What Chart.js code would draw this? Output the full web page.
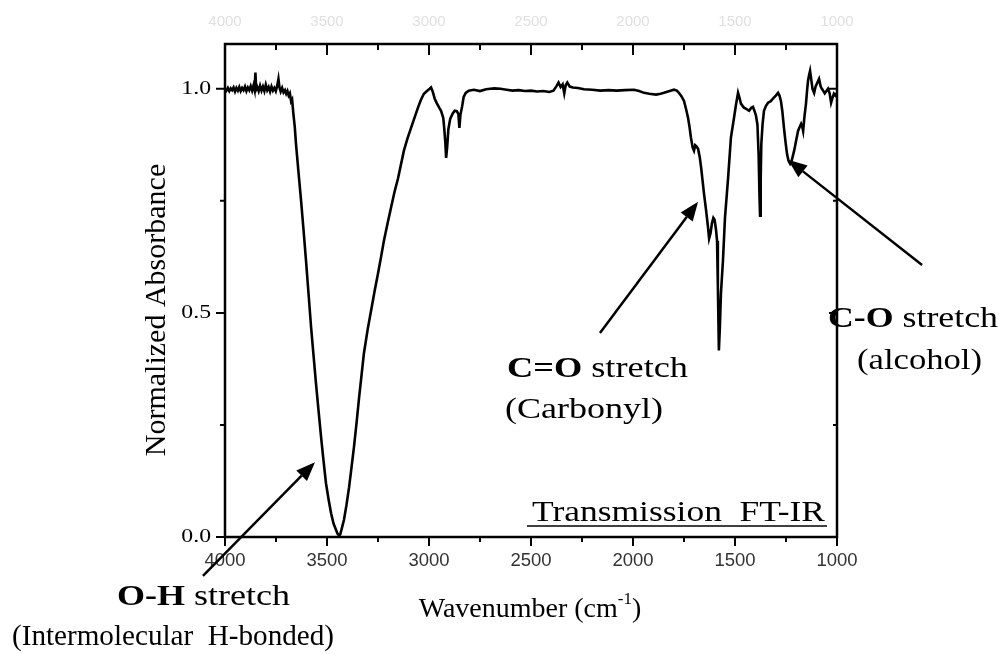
<!DOCTYPE html>
<html lang="en">
<head>
    <meta charset="UTF-8">
    <title>Transmission FT-IR</title>
    <style>
        html, body { margin: 0; padding: 0; background: #fff; }
        #chart { display: block; }
    </style>
</head>
<body>
    <canvas id="chart" width="1006" height="654"></canvas>
    <script src="https://cdn.jsdelivr.net/npm/chart.js"></script>
    <script>
        // spectrum (wavenumber in cm-1, normalized absorbance)
        var wavenumbers = [4000, 3993, 3986, 3979, 3972, 3965, 3958, 3951, 3944, 3937, 3930, 3923, 3916, 3909, 3902, 3895, 3888, 3881, 3874, 3867, 3860, 3855, 3851, 3847, 3842, 3835, 3828, 3821, 3814, 3807, 3800, 3793, 3786, 3779, 3772, 3765, 3758, 3751, 3744, 3738, 3733, 3727, 3720, 3713, 3706, 3700, 3694, 3688, 3682, 3676, 3671, 3665, 3658, 3652, 3640, 3627, 3615, 3603, 3590, 3578, 3566, 3554, 3541, 3529, 3517, 3505, 3492, 3480, 3468, 3456, 3448, 3441, 3435, 3428, 3417, 3405, 3392, 3380, 3368, 3355, 3343, 3331, 3319, 3300, 3284, 3267, 3250, 3235, 3221, 3203, 3186, 3170, 3152, 3137, 3123, 3105, 3088, 3070, 3054, 3040, 3025, 3010, 2997, 2990, 2982, 2972, 2962, 2950, 2941, 2930, 2925, 2920, 2916, 2911, 2905, 2896, 2885, 2874, 2864, 2856, 2851, 2846, 2838, 2830, 2820, 2805, 2780, 2750, 2720, 2700, 2680, 2650, 2620, 2590, 2560, 2530, 2500, 2470, 2440, 2410, 2390, 2375, 2365, 2355, 2345, 2337, 2330, 2322, 2310, 2295, 2270, 2240, 2200, 2160, 2120, 2080, 2040, 1995, 1970, 1946, 1920, 1887, 1865, 1848, 1820, 1799, 1785, 1775, 1762, 1750, 1740, 1730, 1723, 1716, 1708, 1701, 1695, 1690, 1681, 1673, 1666, 1659, 1652, 1642, 1632, 1627, 1620, 1613, 1606, 1600, 1593, 1588, 1584, 1579, 1574, 1569, 1559, 1549, 1534, 1520, 1505, 1495, 1485, 1478, 1471, 1463, 1456, 1445, 1431, 1420, 1412, 1404, 1397, 1390, 1384, 1380, 1377, 1374, 1371, 1365, 1358, 1348, 1338, 1326, 1314, 1300, 1289, 1282, 1275, 1268, 1260, 1252, 1245, 1238, 1230, 1222, 1210, 1200, 1191, 1183, 1176, 1170, 1166, 1159, 1152, 1146, 1142, 1137, 1132, 1126, 1120, 1112, 1105, 1095, 1088, 1080, 1074, 1068, 1060, 1052, 1044, 1036, 1029, 1022, 1015, 1008, 1000];
        var absorbance = [1.000, 0.996, 1.002, 0.995, 1.001, 0.997, 1.003, 0.994, 1.002, 0.996, 1.004, 0.995, 1.002, 0.997, 1.005, 0.995, 1.003, 0.997, 1.006, 0.996, 1.008, 0.998, 1.036, 0.999, 1.004, 0.995, 1.007, 0.996, 1.005, 0.995, 1.009, 0.997, 1.004, 0.994, 1.005, 0.996, 1.002, 0.995, 1.007, 1.022, 1.003, 0.994, 1.002, 0.992, 0.997, 0.989, 0.995, 0.985, 0.990, 0.972, 0.976, 0.945, 0.915, 0.877, 0.815, 0.750, 0.685, 0.617, 0.540, 0.468, 0.405, 0.343, 0.280, 0.223, 0.170, 0.120, 0.083, 0.053, 0.030, 0.016, 0.007, 0.003, 0.006, 0.018, 0.038, 0.070, 0.110, 0.155, 0.200, 0.255, 0.310, 0.360, 0.410, 0.465, 0.505, 0.548, 0.588, 0.625, 0.661, 0.700, 0.735, 0.768, 0.800, 0.832, 0.862, 0.890, 0.913, 0.937, 0.958, 0.975, 0.989, 0.995, 1.000, 1.003, 0.994, 0.978, 0.968, 0.958, 0.951, 0.935, 0.910, 0.880, 0.846, 0.870, 0.910, 0.933, 0.944, 0.951, 0.950, 0.944, 0.913, 0.942, 0.960, 0.982, 0.991, 0.996, 0.998, 0.995, 0.999, 1.000, 1.001, 1.000, 0.998, 0.996, 0.997, 0.995, 0.996, 0.994, 0.995, 0.993, 0.996, 1.006, 1.014, 1.004, 1.010, 0.990, 1.008, 1.014, 1.005, 1.003, 1.002, 0.999, 0.998, 0.996, 0.997, 0.996, 0.997, 0.998, 0.995, 0.991, 0.989, 0.987, 0.989, 0.991, 0.995, 0.998, 0.996, 0.991, 0.983, 0.973, 0.955, 0.935, 0.915, 0.891, 0.870, 0.862, 0.874, 0.872, 0.866, 0.848, 0.824, 0.795, 0.766, 0.730, 0.690, 0.666, 0.678, 0.700, 0.712, 0.708, 0.685, 0.661, 0.560, 0.416, 0.470, 0.543, 0.617, 0.713, 0.800, 0.891, 0.935, 0.965, 0.991, 0.980, 0.967, 0.962, 0.958, 0.955, 0.951, 0.958, 0.960, 0.950, 0.940, 0.920, 0.850, 0.760, 0.717, 0.800, 0.877, 0.920, 0.951, 0.962, 0.969, 0.972, 0.978, 0.985, 0.991, 0.985, 0.973, 0.950, 0.913, 0.880, 0.855, 0.840, 0.833, 0.840, 0.862, 0.885, 0.906, 0.915, 0.922, 0.915, 0.906, 0.940, 0.967, 1.000, 1.018, 1.030, 1.040, 1.020, 1.000, 0.991, 1.005, 1.015, 1.022, 1.005, 1.000, 0.996, 0.990, 0.995, 1.000, 0.990, 0.969, 0.980, 0.989, 0.985, 0.991];

        var xTicks = [4000, 3500, 3000, 2500, 2000, 1500, 1000];
        var xTickLabels = ['4000', '3500', '3000', '2500', '2000', '1500', '1000'];
        var xMinorTicks = [3750, 3250, 2750, 2250, 1750, 1250];
        var yTicks = [0, 0.5, 1.0];
        var yTickLabels = ['0.0', '0.5', '1.0'];
        var yMinorTicks = [0.25, 0.75];

        // arrows: tail and tip in data units (wavenumber, absorbance)
        var arrows = [
            { tail: [4108, -0.087], tip: [3559, 0.167] },
            { tail: [2162, 0.455], tip: [1681, 0.748] },
            { tail: [583, 0.607], tip: [1240, 0.842] }
        ];

        var FONT = '"Liberation Serif", "Times New Roman", serif';

        // draw text pieces [text, bold] stretched to a target width
        function fitText(ctx, parts, x, y, size, width) {
            var total = 0;
            parts.forEach(function (p) {
                ctx.font = (p[1] ? 'bold ' : '') + size + 'px ' + FONT;
                total += ctx.measureText(p[0]).width;
            });
            var sx = width ? width / total : 1;
            ctx.save();
            ctx.translate(x, y);
            ctx.scale(sx, 1);
            ctx.textAlign = 'left';
            ctx.textBaseline = 'alphabetic';
            var cx = 0;
            parts.forEach(function (p) {
                ctx.font = (p[1] ? 'bold ' : '') + size + 'px ' + FONT;
                ctx.fillText(p[0], cx, 0);
                cx += ctx.measureText(p[0]).width;
            });
            ctx.restore();
        }

        function arrow(ctx, x1, y1, x2, y2) {
            var a = Math.atan2(y2 - y1, x2 - x1);
            var len = 19, half = 7.5;
            var bx = x2 - len * Math.cos(a), by = y2 - len * Math.sin(a);
            ctx.beginPath();
            ctx.moveTo(x1, y1);
            ctx.lineTo(bx, by);
            ctx.lineWidth = 2.5;
            ctx.stroke();
            ctx.beginPath();
            ctx.moveTo(x2, y2);
            ctx.lineTo(bx + half * Math.sin(a), by - half * Math.cos(a));
            ctx.lineTo(bx - half * Math.sin(a), by + half * Math.cos(a));
            ctx.closePath();
            ctx.fill();
        }

        var decorations = {
            id: 'decorations',
            afterDraw: function (chart) {
                var ctx = chart.ctx;
                var a = chart.chartArea;
                var xs = chart.scales.x, ys = chart.scales.y;
                ctx.save();
                ctx.strokeStyle = '#000';
                ctx.fillStyle = '#000';

                // frame
                ctx.lineWidth = 2.5;
                ctx.strokeRect(a.left, a.top, a.right - a.left, a.bottom - a.top);

                // ticks: bottom/left outward, top/right inward
                ctx.lineWidth = 2;
                ctx.beginPath();
                xTicks.forEach(function (v) {
                    var px = xs.getPixelForValue(v);
                    ctx.moveTo(px, a.bottom); ctx.lineTo(px, a.bottom + 9);
                    ctx.moveTo(px, a.top); ctx.lineTo(px, a.top + 11);
                });
                xMinorTicks.forEach(function (v) {
                    var px = xs.getPixelForValue(v);
                    ctx.moveTo(px, a.bottom); ctx.lineTo(px, a.bottom + 5);
                    ctx.moveTo(px, a.top); ctx.lineTo(px, a.top + 6);
                });
                yTicks.forEach(function (v) {
                    var py = ys.getPixelForValue(v);
                    ctx.moveTo(a.left, py); ctx.lineTo(a.left - 9, py);
                    ctx.moveTo(a.right, py); ctx.lineTo(a.right - 8, py);
                });
                yMinorTicks.forEach(function (v) {
                    var py = ys.getPixelForValue(v);
                    ctx.moveTo(a.left, py); ctx.lineTo(a.left - 5, py);
                    ctx.moveTo(a.right, py); ctx.lineTo(a.right - 4, py);
                });
                ctx.stroke();

                // y tick labels
                yTicks.forEach(function (v, i) {
                    var py = ys.getPixelForValue(v);
                    ctx.save();
                    ctx.translate(a.left - 14, py);
                    ctx.scale(1.25, 1);
                    ctx.font = '19px ' + FONT;
                    ctx.textAlign = 'right';
                    ctx.textBaseline = 'middle';
                    ctx.fillText(yTickLabels[i], 0, 0);
                    ctx.restore();
                });

                // faint labels above the frame
                ctx.save();
                ctx.fillStyle = '#e0e0e0';
                ctx.font = '15px "Liberation Sans", Arial, sans-serif';
                ctx.textAlign = 'center';
                ctx.textBaseline = 'alphabetic';
                xTicks.forEach(function (v, i) {
                    ctx.fillText(xTickLabels[i], xs.getPixelForValue(v), 26);
                });
                ctx.restore();

                // axis titles
                ctx.save();
                ctx.translate(165, 310);
                ctx.rotate(-Math.PI / 2);
                ctx.font = '30px ' + FONT;
                ctx.textAlign = 'center';
                ctx.textBaseline = 'alphabetic';
                ctx.fillText('Normalized Absorbance', 0, 0);
                ctx.restore();

                ctx.font = '28px ' + FONT;
                var w1 = ctx.measureText('Wavenumber (cm').width;
                ctx.font = '17px ' + FONT;
                var w2 = ctx.measureText('-1').width;
                ctx.font = '28px ' + FONT;
                var w3 = ctx.measureText(')').width;
                var tx = 530 - (w1 + w2 + w3) / 2;
                ctx.textAlign = 'left';
                ctx.fillText('Wavenumber (cm', tx, 617);
                ctx.font = '17px ' + FONT;
                ctx.fillText('-1', tx + w1, 604);
                ctx.font = '28px ' + FONT;
                ctx.fillText(')', tx + w1 + w2, 617);

                // annotations
                fitText(ctx, [['Transmission  FT-IR', false]], 532, 521, 29, 293);
                ctx.lineWidth = 1.5;
                ctx.beginPath();
                ctx.moveTo(527, 526); ctx.lineTo(827, 526);
                ctx.stroke();

                fitText(ctx, [['O-H', true], [' stretch', false]], 117, 605, 30, 173);
                fitText(ctx, [['(Intermolecular  H-bonded)', false]], 12, 645, 30, 322);
                fitText(ctx, [['C=O', true], [' stretch', false]], 507, 377, 29, 181);
                fitText(ctx, [['(Carbonyl)', false]], 505, 418, 29, 158);
                fitText(ctx, [['C-O', true], [' stretch', false]], 828, 327, 29, 170);
                fitText(ctx, [['(alcohol)', false]], 857, 369, 29, 125);

                arrows.forEach(function (ar) {
                    arrow(ctx,
                        xs.getPixelForValue(ar.tail[0]), ys.getPixelForValue(ar.tail[1]),
                        xs.getPixelForValue(ar.tip[0]), ys.getPixelForValue(ar.tip[1]));
                });
                ctx.restore();
            }
        };

        var ctx = document.getElementById('chart').getContext('2d');
        var chart = new Chart(ctx, {
            type: 'line',
            data: {
                datasets: [{
                    data: wavenumbers.map(function (w, i) { return { x: w, y: absorbance[i] }; }),
                    borderColor: '#000',
                    borderWidth: 2.6,
                    pointRadius: 0,
                    fill: false,
                    tension: 0
                }]
            },
            options: {
                responsive: false,
                animation: false,
                devicePixelRatio: 1,
                layout: { padding: { left: 185, right: 169, top: 44, bottom: 67 } },
                plugins: { legend: { display: false }, tooltip: { enabled: false } },
                scales: {
                    x: {
                        type: 'linear',
                        reverse: true,
                        min: 1000,
                        max: 4000,
                        afterBuildTicks: function (s) { s.ticks = xTicks.map(function (v) { return { value: v }; }); },
                        afterFit: function (s) { s.height = 50; },
                        grid: { display: false, drawTicks: false },
                        border: { display: false },
                        ticks: {
                            autoSkip: false,
                            maxRotation: 0,
                            padding: 13,
                            color: '#333',
                            font: { family: '"Liberation Sans", Arial, sans-serif', size: 18.5 },
                            callback: function (v) { return xTickLabels[xTicks.indexOf(v)]; }
                        }
                    },
                    y: {
                        min: 0,
                        max: 1.1,
                        afterBuildTicks: function (s) { s.ticks = yTicks.map(function (v) { return { value: v }; }); },
                        afterFit: function (s) { s.width = 40; },
                        grid: { display: false, drawTicks: false },
                        border: { display: false },
                        ticks: { display: false }
                    }
                }
            },
            plugins: [decorations]
        });
    </script>
</body>
</html>
